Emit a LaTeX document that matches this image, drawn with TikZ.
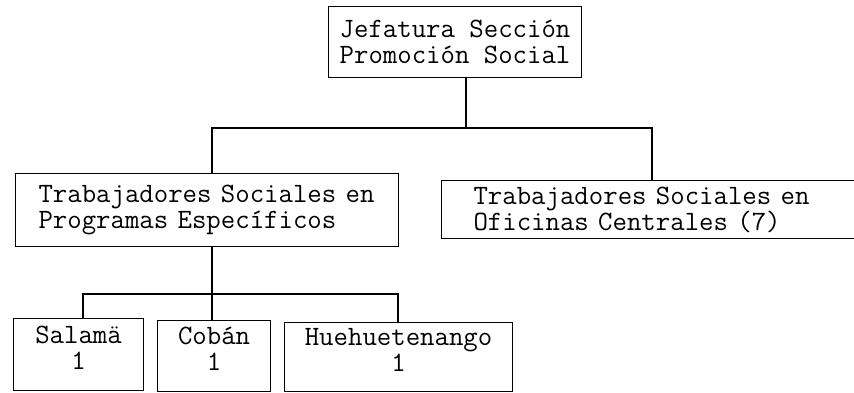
\documentclass[tikz,border=0pt]{standalone}
\usepackage{fontspec}
\begin{document}
\begin{tikzpicture}[x=1pt,y=-1pt,
  box/.style={draw=black, line width=1.1pt, rectangle, anchor=north west, inner sep=0pt,
    font=\ttfamily\fontsize{28}{26}\selectfont},
  conn/.style={draw=black, line width=1.1pt}]
\useasboundingbox (0,0) rectangle (854,392);
\clip (0,0) rectangle (854,392);
\fill[white] (0,0) rectangle (854,392);

\node[box, minimum width=253pt, minimum height=71pt, align=center] (jef) at (328,6) {Jefatura Sección\\Promoción Social};
\node[box, minimum width=383pt, minimum height=73pt, text width=337pt, align=left] (left) at (15,173) {Trabajadores Sociales en\\Programas Específicos};
\node[box, minimum width=440pt, minimum height=58pt, text width=376pt, align=left] (right) at (441,180) {Trabajadores Sociales en\\Oficinas Centrales (7)};

\node[box, minimum width=130pt, minimum height=72pt, align=center, text depth=14pt] (sal) at (13,318) {Salamä\\1};
\node[box, minimum width=113pt, minimum height=71pt, align=center, text depth=14pt] (cob) at (157,320) {Cobán\\1};
\node[box, minimum width=228pt, minimum height=69pt, align=center, text depth=14pt] (hue) at (284,322) {Huehuetenango\\1};

\coordinate (hub) at (466,128);
\coordinate (a) at (212,128);
\coordinate (b) at (652,128);
\coordinate (c) at (83,294);
\coordinate (d) at (398,294);

\draw[conn] (hub |- jef.south) -- (hub);
\draw[conn] (a |- left.north) -- (a) -- (b) -- (b |- right.north);
\draw[conn] (a |- left.south) -- (a |- cob.north);
\draw[conn] (c |- sal.north) -- (c) -- (d) -- (d |- hue.north);
\end{tikzpicture}
\end{document}
